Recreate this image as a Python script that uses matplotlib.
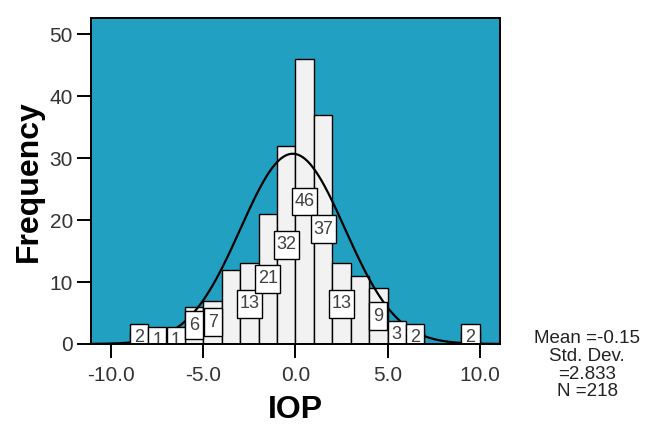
#!/usr/bin/env python
# -*- coding: utf-8 -*-

import numpy as np
import matplotlib
matplotlib.use('Agg')
import matplotlib.pyplot as plt
from matplotlib.patches import Rectangle

# histogram of IOP, bins of width 1 from -9 to 10
bin_left = [-9, -8, -7, -6, -5, -4, -3, -2, -1, 0, 1, 2, 3, 4, 5, 6, 7, 8, 9]
counts = [2, 1, 1, 6, 7, 12, 13, 21, 32, 46, 37, 13, 11, 9, 3, 2, 0, 0, 2]
# SPSS only printed some of the counts
shown = [True, True, True, True, True, False, True, True, True, True, True,
         True, False, True, True, True, False, False, True]

mean = -0.15
sd = 2.833
n = 218

xticks = [-10.0, -5.0, 0.0, 5.0, 10.0]
yticks = [0, 10, 20, 30, 40, 50]

plt.rcParams['font.family'] = ['Liberation Sans', 'DejaVu Sans']


def main():
    fig = plt.figure(figsize=[6.48, 4.25], dpi=100)
    ax = fig.add_axes([0.1404, 0.1906, 0.6312, 0.767])
    ax.set_facecolor('#21a0c1')

    ax.bar(bin_left, counts, width=1.0, align='edge', color='#f2f2f2',
           edgecolor='black', linewidth=1.0, zorder=2)

    # count labels in little boxes at half the bar height
    for x, c, s in zip(bin_left, counts, shown):
        if not s:
            continue
        lab = str(c)
        w = 0.6 + 0.38 * len(lab)
        h = 4.5
        ax.add_patch(Rectangle((x + 0.5 - w / 2, c / 2.0 - h / 2), w, h,
                               fc='white', ec='black', lw=1.0, zorder=4))
        ax.text(x + 0.5, c / 2.0, lab, ha='center', va='center',
                fontsize=13, color='#404040', zorder=5, clip_on=True)

    # normal curve scaled to counts
    xs = np.linspace(-11.1, 11.1, 400)
    ys = n * 1.0 / (sd * np.sqrt(2 * np.pi)) * np.exp(-(xs - mean) ** 2 / (2 * sd ** 2))
    ax.plot(xs, ys, color='black', lw=1.6, zorder=3)

    ax.set_xlim(-11.1, 11.1)
    ax.set_ylim(0, 52.6)
    ax.set_xticks(xticks)
    ax.set_xticklabels(['%.1f' % t for t in xticks])
    ax.set_yticks(yticks)

    for sp in ax.spines.values():
        sp.set_linewidth(1.4)
        sp.set_zorder(6)
    ax.tick_params(direction='out', length=10, width=1.4, labelsize=15,
                   labelcolor='#333333')
    ax.tick_params(axis='x', pad=6)
    ax.tick_params(axis='y', pad=3)

    ax.set_xlabel('IOP', fontsize=23, fontweight='bold', labelpad=7)
    ax.set_ylabel('Frequency', fontsize=23, fontweight='bold', labelpad=4)

    fig.text(0.906, 0.058, 'Mean =-0.15\nStd. Dev.\n=2.833\nN =218',
             ha='center', va='bottom', multialignment='center',
             fontsize=13.5, color='#222222', linespacing=1.05)

    fig.savefig('out.png', dpi=100)
    return True


if __name__ == "__main__":

    main()
